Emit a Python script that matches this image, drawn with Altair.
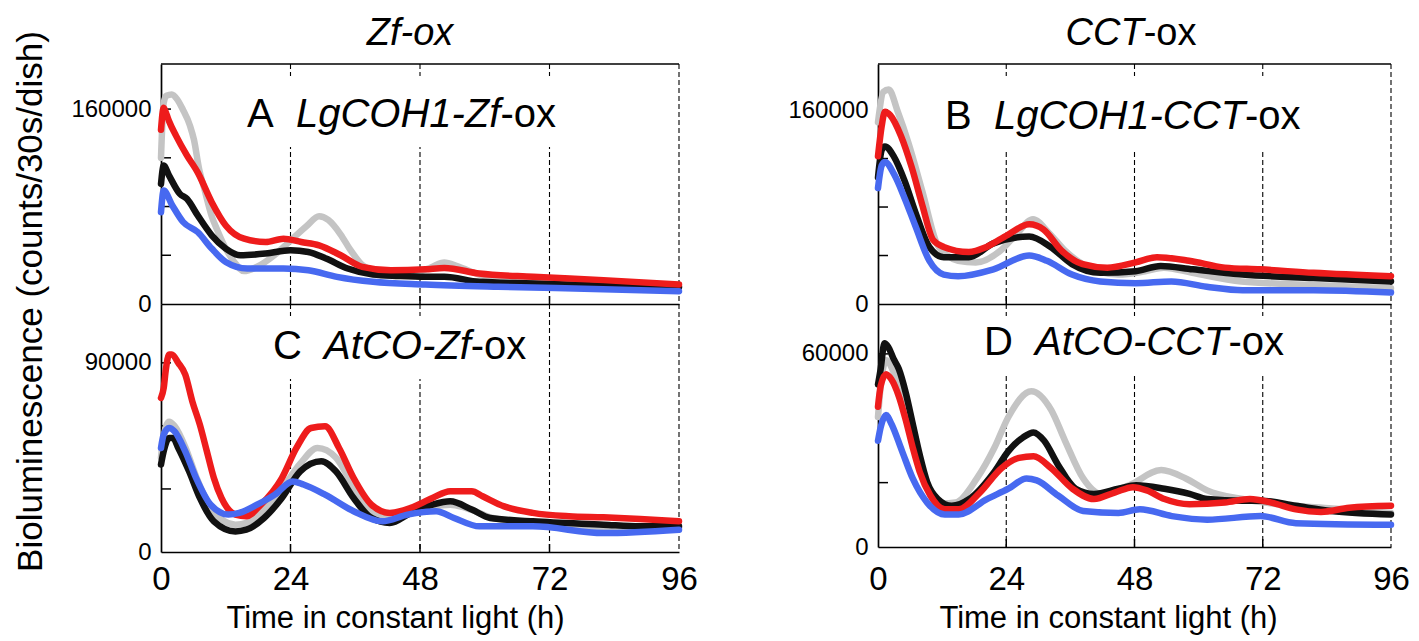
import altair as alt
import pandas as pd

FONT = "Liberation Sans"

# ---------------- data ----------------
X_TICKS = [0, 24, 48, 72, 96]
DASH_X = [24, 48, 72, 96]

# Panel A  LgCOH1-Zf-ox
A_GREY_T = [0, 0.5, 1, 2, 3, 4, 5.4, 6.1, 7.1, 8, 9.4, 10.5, 12, 13.5, 15.4, 18, 21, 24, 27, 29.3, 31, 33.3, 35, 37.3, 40, 42.6, 45, 47.9, 50, 52.5, 55, 59, 64, 69, 76, 84, 90, 96]
A_GREY = [120000, 165000, 171000, 172000, 168000, 160000, 146000, 135000, 110000, 95000, 72000, 60000, 45500, 35000, 27000, 31000, 40000, 52000, 64000, 72000, 69000, 57000, 45000, 32000, 26000, 23500, 24000, 26500, 30000, 34000, 31000, 24000, 20000, 18000, 16500, 15500, 14500, 14000]
A_BLACK_T = [0, 0.5, 1.5, 3.5, 4.8, 6.8, 9.4, 12, 14.7, 19.4, 24, 27.3, 30.6, 34.6, 39.3, 44, 49, 52.5, 59, 69, 82, 96]
A_BLACK = [98600, 113600, 105400, 90400, 86300, 72700, 56400, 45500, 40000, 41400, 44100, 42700, 37300, 29100, 24200, 23000, 22300, 22300, 18200, 16800, 15000, 14000]
A_RED_T = [0, 0.5, 1, 1.5, 2.8, 4.8, 6.8, 9.4, 12, 15.4, 19.4, 22.7, 26, 29.3, 33.3, 37.3, 42.6, 49, 52.5, 59, 69, 82, 96]
A_RED = [143000, 161000, 156000, 150000, 138000, 122000, 108000, 83600, 64500, 53600, 50900, 53600, 50900, 48200, 40000, 30500, 27700, 28500, 29600, 25000, 22300, 19600, 16000]
A_BLUE_T = [0, 0.5, 2.1, 4.1, 6.8, 9.4, 12, 16, 22.7, 27.3, 32.6, 39.3, 49, 62.5, 82, 96]
A_BLUE = [75400, 93100, 80900, 67300, 59100, 45500, 34500, 29100, 29100, 27700, 22300, 18200, 16000, 14100, 12200, 10500]

# Panel B  LgCOH1-CCT-ox
B_GREY_T = [0, 1, 2, 3.7, 5.7, 8.3, 11, 13, 15, 18.3, 23, 26, 29, 32, 35, 38.3, 45, 50, 53.5, 58.8, 68, 81.5, 96]
B_GREY = [150000, 175000, 177000, 158600, 132900, 92900, 50000, 40000, 35700, 34300, 44300, 58000, 70000, 58600, 44000, 32900, 24300, 27000, 30000, 25700, 18600, 15700, 12900]
B_BLACK_T = [0, 0.7, 1.3, 3, 5, 7, 9.6, 12.3, 17, 21.6, 28.3, 32.3, 36.3, 41.6, 48.2, 52.9, 58.9, 68.2, 81.5, 96]
B_BLACK = [104300, 127100, 130000, 121400, 101400, 75700, 47100, 38600, 38600, 50000, 55700, 47100, 32900, 25700, 27100, 31400, 28600, 24300, 21400, 18600]
B_RED_T = [0, 0.7, 1.3, 2.3, 4.3, 6.3, 8.3, 10.3, 12.3, 17, 20.3, 24.3, 28.3, 31, 34.3, 38.3, 42.9, 48.2, 52.2, 58.2, 64.9, 71.5, 81.5, 96]
B_RED = [122000, 147000, 158600, 155700, 138600, 112900, 81400, 52900, 47100, 42900, 47100, 57100, 65700, 61400, 44300, 32900, 30000, 34300, 38600, 35700, 30000, 28600, 25700, 22900]
B_BLUE_T = [0, 0.7, 1.3, 3, 5, 7, 9.6, 12.3, 15, 21.6, 28.3, 31.6, 36.3, 41.6, 48.2, 54.9, 61.5, 68.2, 81.5, 96]
B_BLUE = [95700, 114300, 117100, 107100, 87100, 64300, 35700, 24300, 22900, 28600, 40000, 35700, 24300, 18600, 17100, 18600, 14300, 11400, 11400, 9400]

# Panel C  AtCO-Zf-ox
C_GREY_T = [0, 0.5, 1.5, 2.5, 4.5, 6.5, 9, 11.5, 13.8, 16, 19, 22.4, 25.8, 29, 32.4, 35.7, 39, 42.4, 46.3, 50.3, 53.6, 57.6, 61, 68.9, 82, 96]
C_GREY = [45000, 55000, 62000, 60000, 50000, 36000, 22000, 15000, 13000, 14000, 20000, 30000, 42000, 49500, 45000, 31000, 19000, 15500, 18500, 21500, 22500, 20000, 16500, 14000, 12000, 11400]
C_BLACK_T = [0, 0.5, 1.5, 2.2, 3.2, 5.2, 7.2, 9.8, 13.8, 15.8, 19.1, 22.4, 25.8, 29.7, 32.4, 35.7, 39, 42.4, 46.3, 50.3, 53.6, 57.6, 61, 68.9, 82, 88.8, 96]
C_BLACK = [41600, 47900, 54300, 54300, 49500, 38400, 25700, 14600, 9800, 10600, 16200, 25700, 38400, 43200, 38400, 25700, 16200, 13800, 18600, 22500, 24100, 20200, 16200, 14600, 13000, 12200, 12200]
C_RED_T = [0, 0.5, 0.9, 1.5, 2, 3.2, 4.5, 5.8, 7.2, 8.5, 9.8, 11.2, 13.8, 15.8, 18.5, 22.4, 25.1, 27.8, 30.4, 33, 35.7, 39, 42.4, 46.3, 50.3, 53.6, 57.6, 59.6, 63.6, 68.9, 75.6, 82, 88.8, 96]
C_RED = [73300, 78000, 86800, 94000, 94000, 90000, 84400, 71700, 60600, 47900, 35200, 25700, 17800, 17000, 22500, 35200, 49500, 59000, 59800, 49500, 35200, 22500, 18600, 21000, 25700, 28900, 28900, 26500, 21700, 18600, 17000, 16500, 15700, 14600]
C_BLUE_T = [0, 0.5, 1.5, 2.5, 4.5, 6.5, 9.2, 12.5, 14.5, 17.8, 21.1, 24.4, 26.4, 30.4, 35.7, 41, 45.7, 51, 54.3, 59, 68.9, 82, 96]
C_BLUE = [49500, 55900, 59000, 57400, 47900, 35200, 22500, 17800, 18600, 22500, 27300, 33600, 32100, 27300, 19400, 14600, 17800, 19400, 16200, 12200, 12200, 9000, 10600]

# Panel D  AtCO-CCT-ox
D_GREY_T = [0, 0.5, 1.5, 3, 5, 7, 9.5, 12, 14.5, 18.5, 21.8, 24.4, 28.7, 32.4, 35, 38.4, 41.7, 47, 53, 57.6, 61.6, 68.2, 74.9, 85, 96]
D_GREY = [40400, 50000, 58000, 54000, 44000, 30000, 18000, 13500, 13800, 21300, 30900, 40400, 48400, 42600, 33000, 21300, 16500, 19200, 23900, 21300, 17600, 14900, 13300, 12000, 10600]
D_BLACK_T = [0, 0.5, 1.2, 1.9, 2.9, 3.9, 5.2, 6.5, 7.8, 9.2, 11.2, 13.8, 17.1, 21.8, 24.4, 27.1, 29.1, 31.1, 33.7, 37, 40.4, 45, 48.3, 53.6, 58.3, 61.6, 68.2, 71.6, 78.2, 84.8, 96]
D_BLACK = [50500, 55300, 63300, 62200, 58500, 55300, 47900, 38300, 28700, 20200, 14900, 12800, 14900, 23400, 29800, 34000, 35600, 33000, 25500, 18100, 16500, 18100, 19200, 18100, 16500, 14900, 14400, 14400, 12800, 11200, 10100]
D_RED_T = [0, 0.5, 1.5, 2.5, 3.9, 5.2, 6.5, 7.8, 9.8, 12.5, 15.1, 19.1, 23.1, 26.4, 29.1, 32.4, 36.4, 40.4, 44.4, 47.7, 50.3, 53.6, 58.3, 64.9, 69.6, 73.6, 78.2, 82.9, 88.2, 96]
D_RED = [43600, 50000, 53700, 52100, 46800, 39400, 30900, 23400, 16000, 11700, 11700, 17000, 24500, 27700, 28200, 24500, 18100, 14900, 17000, 18600, 17600, 14900, 13300, 13800, 14900, 13800, 11700, 10900, 12200, 12800]
D_BLUE_T = [0, 0.5, 1.5, 2.5, 4.5, 6.5, 9.2, 12.5, 15.1, 20.4, 24.4, 27.8, 29.7, 33.7, 38.4, 45, 49, 55, 61.6, 71.6, 78.2, 96]
D_BLUE = [33000, 37200, 41000, 38300, 29800, 21300, 13800, 10100, 10100, 14900, 18100, 21300, 20700, 16000, 11200, 10600, 11700, 9600, 8500, 9600, 7400, 6900]

COLORS = {"grey": "#c4c4c4", "black": "#111111", "red": "#ee1c1c", "blue": "#4769f0"}

# ---------------- layout helpers ----------------
ARIAL_W = {" ": 278, "A": 667, "B": 667, "C": 722, "D": 722, "L": 556, "g": 556, "O": 778,
           "H": 722, "1": 556, "-": 333, "Z": 611, "f": 278, "o": 556, "x": 500, "T": 611, "t": 278}
LABEL_SIZE = 40
COLTITLE_SIZE = 38


def tw(s, size):
    return sum(ARIAL_W.get(ch, 556) for ch in s) * size / 1000.0


ONE = pd.DataFrame({"k": [0]})


def text_layer(txt, x, y, size, italic):
    kw = dict(text=txt, font=FONT, fontSize=size, align="left", baseline="alphabetic", color="black")
    if italic:
        kw["fontStyle"] = "italic"
    return alt.Chart(ONE).mark_text(**kw).encode(x=alt.value(x), y=alt.value(y))


def rich_text(parts, x0, y, size):
    out = []
    x = x0
    for txt, it in parts:
        out.append(text_layer(txt.strip(), x, y, size, it))
        x += tw(txt, size)
    return out


def panel(series, ydom, ylabels, yticks, w, h, label_parts, lx, ly, xlabels, xlab_pad,
          xtitle=None, ytitle=None, coltitle=None, top_border=False):
    xs = alt.Scale(domain=[0, 96], nice=False, zero=False)
    ys = alt.Scale(domain=ydom, nice=False, zero=False)

    xkw = dict(values=X_TICKS, ticks=False, tickSize=0, grid=False, domainColor="black",
               domainWidth=1.7, labels=xlabels, labelFlush=False, labelFont=FONT,
               labelFontSize=33, labelColor="black", labelPadding=xlab_pad,
               labelBaseline="alphabetic", title=None)
    if xtitle is not None:
        tx, ty = xtitle
        xkw.update(title="Time in constant light (h)", titleFont=FONT, titleFontSize=31,
                   titleFontWeight="normal", titleColor="black", titleX=tx, titleY=ty,
                   titleAlign="center", titleBaseline="alphabetic")
    ykw = dict(values=ylabels, ticks=False, tickSize=0, grid=False, domainColor="black",
               domainWidth=1.7, labelFont=FONT, labelFontSize=24, labelColor="black",
               labelPadding=10, format="d", title=None)
    if ytitle is not None:
        tx, ty = ytitle
        ykw.update(title="Bioluminescence (counts/30s/dish)", titleFont=FONT, titleFontSize=35,
                   titleFontWeight="normal", titleColor="black", titleAngle=270,
                   titleX=tx, titleY=ty, titleAlign="center", titleBaseline="middle")
    X = lambda: alt.X("t:Q", scale=xs, axis=alt.Axis(**xkw))
    Y = lambda: alt.Y("v:Q", scale=ys, axis=alt.Axis(**ykw))

    layers = []
    layers.append(alt.Chart(pd.DataFrame({"t": DASH_X})).mark_rule(
        color="black", strokeWidth=1.1, strokeDash=[5, 3]).encode(
        x=X(), y=alt.value(0), y2=alt.value(h)))
    lw_total = sum(tw(p, LABEL_SIZE) for p, _ in label_parts)
    layers.append(alt.Chart(ONE).mark_rect(color="white").encode(
        x=alt.value(lx - 6), x2=alt.value(lx + lw_total + 6),
        y=alt.value(12), y2=alt.value(ly + 20)))
    layers += rich_text(label_parts, lx, ly, LABEL_SIZE)
    if coltitle is not None:
        parts, cx, cy = coltitle
        tot = sum(tw(p, COLTITLE_SIZE) for p, _ in parts)
        layers += rich_text(parts, cx - tot / 2.0, cy, COLTITLE_SIZE)
    layers.append(alt.Chart(pd.DataFrame({"v": yticks})).mark_rule(
        color="black", strokeWidth=1.5).encode(
        y=Y(), x=alt.value(0), x2=alt.value(10)))
    layers.append(alt.Chart(pd.DataFrame({"t": [24, 48, 72]})).mark_rule(
        color="black", strokeWidth=1.5).encode(
        x=X(), y=alt.value(h), y2=alt.value(h - 8)))
    if top_border:
        layers.append(alt.Chart(ONE).mark_rule(color="black", strokeWidth=1.7).encode(
            x=alt.value(0), x2=alt.value(w), y=alt.value(0)))

    for name, t, v in series:
        df = pd.DataFrame({"t": t, "v": v})
        layers.append(alt.Chart(df).mark_line(
            color=COLORS[name], strokeWidth=6.5, interpolate="monotone",
            strokeCap="round", strokeJoin="round").encode(x=X(), y=Y()))
    return alt.layer(*layers).properties(width=w, height=h)


W_L, W_R = 518, 513
H_TOP, H_C, H_D = 240, 248, 243

pA = panel([("grey", A_GREY_T, A_GREY), ("black", A_BLACK_T, A_BLACK),
            ("red", A_RED_T, A_RED), ("blue", A_BLUE_T, A_BLUE)],
           [0, 197000], [0, 160000], [40000, 80000, 120000, 160000], W_L, H_TOP,
           [("A  ", False), ("LgCOH1-Zf", True), ("-ox", False)], 86, 63,
           xlabels=False, xlab_pad=37, ytitle=(-131, 237),
           coltitle=([("Zf-ox", True)], 249, -19), top_border=True)
pB = panel([("grey", B_GREY_T, B_GREY), ("black", B_BLACK_T, B_BLACK),
            ("red", B_RED_T, B_RED), ("blue", B_BLUE_T, B_BLUE)],
           [0, 198000], [0, 160000], [40000, 80000, 120000, 160000], W_R, H_TOP,
           [("B  ", False), ("LgCOH1-CCT", True), ("-ox", False)], 67, 65,
           xlabels=False, xlab_pad=37,
           coltitle=([("CCT", True), ("-ox", False)], 253, -19), top_border=True)
pC = panel([("grey", C_GREY_T, C_GREY), ("black", C_BLACK_T, C_BLACK),
            ("red", C_RED_T, C_RED), ("blue", C_BLUE_T, C_BLUE)],
           [0, 118000], [0, 90000], [30000, 60000, 90000], W_L, H_C,
           [("C  ", False), ("AtCO-Zf", True), ("-ox", False)], 112, 55,
           xlabels=True, xlab_pad=37, xtitle=(234, 75))
pD = panel([("grey", D_GREY_T, D_GREY), ("black", D_BLACK_T, D_BLACK),
            ("red", D_RED_T, D_RED), ("blue", D_BLUE_T, D_BLUE)],
           [0, 75500], [0, 60000], [20000, 40000, 60000], W_R, H_D,
           [("D  ", False), ("AtCO-CCT", True), ("-ox", False)], 106, 51,
           xlabels=True, xlab_pad=42, xtitle=(230, 80))

chart = alt.concat(pA, pB, pC, pD, columns=2, spacing={"row": 0, "column": 199},
                   bounds="flush", align="each").configure_view(strokeWidth=0).properties(
    padding={"left": 12, "top": 15, "right": 5, "bottom": 5})

chart.save("out.html", embed_options={"renderer": "svg", "actions": False})
